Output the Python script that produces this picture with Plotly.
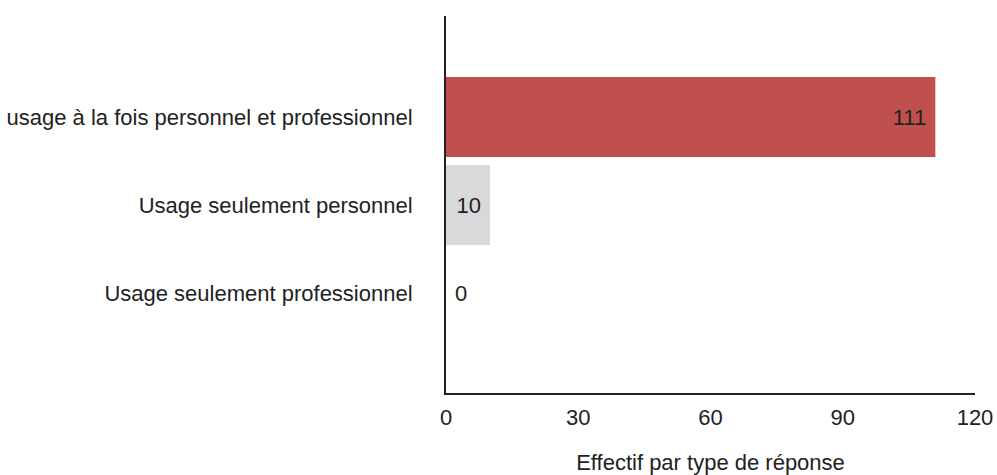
import plotly.graph_objects as go

categories = ["Usage seulement professionnel", "Usage seulement personnel",
              "usage à la fois personnel et professionnel"]
values = [0, 10, 111]
bar_colors = ["#d9d9db", "#d9d9db", "#c0504d"]
text_positions = ["outside", "inside", "inside"]
x_ticks = [0, 30, 60, 90, 120]
x_title = "Effectif par type de réponse"

FONT = "Liberation Sans Narrow, Arial Narrow, Liberation Sans, Arial, sans-serif"
NB = "\u00a0"

fig = go.Figure(go.Bar(
    x=values, y=categories, orientation="h",
    marker=dict(color=bar_colors, line=dict(width=0)),
    texttemplate=[NB + "%{x}", "%{x}" + NB, "%{x}" + NB],
    textposition=text_positions,
    insidetextanchor="end",
    textfont=dict(family=FONT, size=22, color="#222222"),
    cliponaxis=False,
    hoverinfo="skip",
))

fig.update_layout(
    width=997, height=475,
    margin=dict(l=446, r=22, t=16, b=82, autoexpand=False),
    plot_bgcolor="white", paper_bgcolor="white",
    bargap=0.09, showlegend=False,
    font=dict(family=FONT, size=22, color="#222222"),
    xaxis=dict(range=[0, 120], tickvals=x_ticks, showgrid=False, zeroline=False,
               showline=True, linecolor="#222222", linewidth=2, automargin=False,
               ticks="outside", ticklen=0, ticklabelstandoff=4,
               tickfont=dict(family=FONT, size=22, color="#222222"),
               title=dict(text=x_title, standoff=28,
                          font=dict(family=FONT, size=22, color="#222222"))),
    yaxis=dict(type="category", range=[-1.136, 3.148], showgrid=False, zeroline=False,
               showline=True, linecolor="#222222", linewidth=2, automargin=False,
               ticks="outside", ticklen=0, ticklabelstandoff=27,
               tickfont=dict(family=FONT, size=22, color="#222222")),
)

fig.write_html("out.html",
               config={"displayModeBar": False, "staticPlot": True},
               post_script="document.body.style.margin='0px';"
                           "document.body.style.overflow='hidden';")
